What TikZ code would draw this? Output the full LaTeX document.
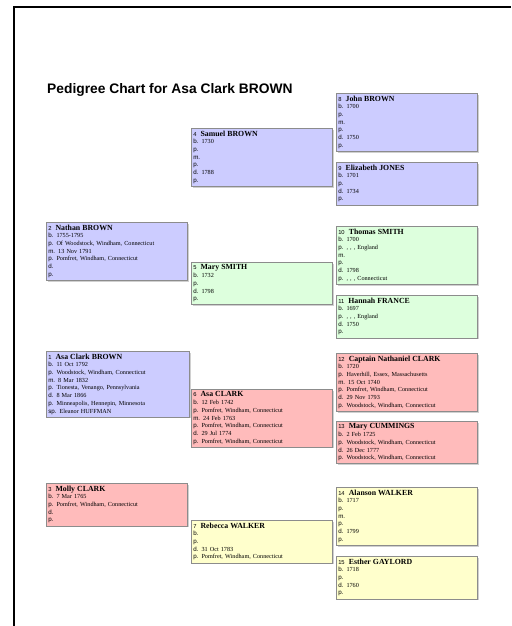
\documentclass[tikz,border=0pt]{standalone}
\usepackage{fontspec}
\setmainfont{Liberation Serif}
\setsansfont{Liberation Sans}
\usetikzlibrary{shadows,backgrounds}
\definecolor{boxblue}{HTML}{CCCCFF}
\definecolor{boxgreen}{HTML}{DDFFDD}
\definecolor{boxpink}{HTML}{FFBBBB}
\definecolor{boxyellow}{HTML}{FFFFCC}
\definecolor{boxgray}{HTML}{8C8C8C}
\newcommand{\pname}[2]{{\fontsize{5.8}{7.7}\selectfont\sffamily #1}\ \ {\fontsize{7.8}{7.7}\selectfont\bfseries #2}}
\newcommand{\pfld}[2]{{\sffamily #1.} #2}

\begin{document}
\begin{tikzpicture}[x=1pt,y=-1pt,
  person/.style={draw=boxgray, line width=0.5pt, anchor=north west, align=left,
    inner xsep=2pt, inner ysep=2.5pt, text width=137pt,
    font=\fontsize{6.2}{7.7}\selectfont,
    drop shadow={shadow xshift=1.5pt, shadow yshift=-1.5pt, fill=black!30, opacity=0.6}},
  link/.style={draw=black!45, line width=0.5pt}]

\useasboundingbox (0,0) rectangle (511,626);
\fill[white] (0,0) rectangle (511,626);
\draw[line width=1.5pt] (14,626) -- (14,7) -- (511,7);

\node[anchor=base west, inner sep=0pt, font=\sffamily\bfseries\fontsize{13.8}{16}\selectfont] (title) at (47,93) {Pedigree Chart for Asa Clark BROWN};

% first column
\node[person, fill=boxblue, text width=139pt] (p1) at (46,351) {\pname{1}{Asa Clark BROWN}\\
  \pfld{b}{11 Oct 1792}\\ \pfld{p}{Woodstock, Windham, Connecticut}\\ \pfld{m}{8 Mar 1832}\\
  \pfld{p}{Tionesta, Venango, Pennsylvania}\\ \pfld{d}{8 Mar 1866}\\
  \pfld{p}{Minneapolis, Hennepin, Minnesota}\\ \pfld{sp}{Eleanor HUFFMAN}};
\node[person, fill=boxblue] (p2) at (46,222) {\pname{2}{Nathan BROWN}\\
  \pfld{b}{1755-1795}\\ \pfld{p}{Of Woodstock, Windham, Connecticut}\\ \pfld{m}{13 Nov 1791}\\
  \pfld{p}{Pomfret, Windham, Connecticut}\\ \pfld{d}{}\\ \pfld{p}{}};
\node[person, fill=boxpink] (p3) at (46,483) {\pname{3}{Molly CLARK}\\
  \pfld{b}{7 Mar 1765}\\ \pfld{p}{Pomfret, Windham, Connecticut}\\ \pfld{d}{}\\ \pfld{p}{}};

% second column
\node[person, fill=boxblue] (p4) at (191,128) {\pname{4}{Samuel BROWN}\\
  \pfld{b}{1730}\\ \pfld{p}{}\\ \pfld{m}{}\\ \pfld{p}{}\\ \pfld{d}{1788}\\ \pfld{p}{}};
\node[person, fill=boxgreen] (p5) at (191,262) {\pname{5}{Mary SMITH}\\
  \pfld{b}{1732}\\ \pfld{p}{}\\ \pfld{d}{1798}\\ \pfld{p}{}};
\node[person, fill=boxpink] (p6) at (191,389) {\pname{6}{Asa CLARK}\\
  \pfld{b}{12 Feb 1742}\\ \pfld{p}{Pomfret, Windham, Connecticut}\\ \pfld{m}{24 Feb 1763}\\
  \pfld{p}{Pomfret, Windham, Connecticut}\\ \pfld{d}{29 Jul 1774}\\
  \pfld{p}{Pomfret, Windham, Connecticut}};
\node[person, fill=boxyellow] (p7) at (191,520) {\pname{7}{Rebecca WALKER}\\
  \pfld{b}{}\\ \pfld{p}{}\\ \pfld{d}{31 Oct 1783}\\ \pfld{p}{Pomfret, Windham, Connecticut}};

% third column
\node[person, fill=boxblue] (p8) at (336,93) {\pname{8}{John BROWN}\\
  \pfld{b}{1700}\\ \pfld{p}{}\\ \pfld{m}{}\\ \pfld{p}{}\\ \pfld{d}{1750}\\ \pfld{p}{}};
\node[person, fill=boxblue] (p9) at (336,162) {\pname{9}{Elizabeth JONES}\\
  \pfld{b}{1701}\\ \pfld{p}{}\\ \pfld{d}{1734}\\ \pfld{p}{}};
\node[person, fill=boxgreen] (p10) at (336,226) {\pname{10}{Thomas SMITH}\\
  \pfld{b}{1700}\\ \pfld{p}{, , , England}\\ \pfld{m}{}\\ \pfld{p}{}\\ \pfld{d}{1798}\\
  \pfld{p}{, , , Connecticut}};
\node[person, fill=boxgreen] (p11) at (336,295) {\pname{11}{Hannah FRANCE}\\
  \pfld{b}{1697}\\ \pfld{p}{, , , England}\\ \pfld{d}{1750}\\ \pfld{p}{}};
\node[person, fill=boxpink] (p12) at (336,353) {\pname{12}{Captain Nathaniel CLARK}\\
  \pfld{b}{1720}\\ \pfld{p}{Haverhill, Essex, Massachusetts}\\ \pfld{m}{15 Oct 1740}\\
  \pfld{p}{Pomfret, Windham, Connecticut}\\ \pfld{d}{29 Nov 1793}\\
  \pfld{p}{Woodstock, Windham, Connecticut}};
\node[person, fill=boxpink] (p13) at (336,421) {\pname{13}{Mary CUMMINGS}\\
  \pfld{b}{2 Feb 1725}\\ \pfld{p}{Woodstock, Windham, Connecticut}\\ \pfld{d}{26 Dec 1777}\\
  \pfld{p}{Woodstock, Windham, Connecticut}};
\node[person, fill=boxyellow] (p14) at (336,487) {\pname{14}{Alanson WALKER}\\
  \pfld{b}{1717}\\ \pfld{p}{}\\ \pfld{m}{}\\ \pfld{p}{}\\ \pfld{d}{1799}\\ \pfld{p}{}};
\node[person, fill=boxyellow] (p15) at (336,556) {\pname{15}{Esther GAYLORD}\\
  \pfld{b}{1718}\\ \pfld{p}{}\\ \pfld{d}{1760}\\ \pfld{p}{}};

% parent brackets
\begin{scope}[on background layer]
\draw[link] ([xshift=2pt]p2.south west) -- ([xshift=2pt]p3.north west);
\draw[link] (p4.west) -- ++(-2pt,0) |- (p5.west);
\draw[link] (p6.west) -- ++(-2pt,0) |- (p7.west);
\draw[link] (p8.west) -- ++(-3pt,0) |- (p9.west);
\draw[link] (p10.west) -- ++(-3pt,0) |- (p11.west);
\draw[link] (p12.west) -- ++(-3pt,0) |- (p13.west);
\draw[link] (p14.west) -- ++(-3pt,0) |- (p15.west);
\end{scope}

\end{tikzpicture}
\end{document}
